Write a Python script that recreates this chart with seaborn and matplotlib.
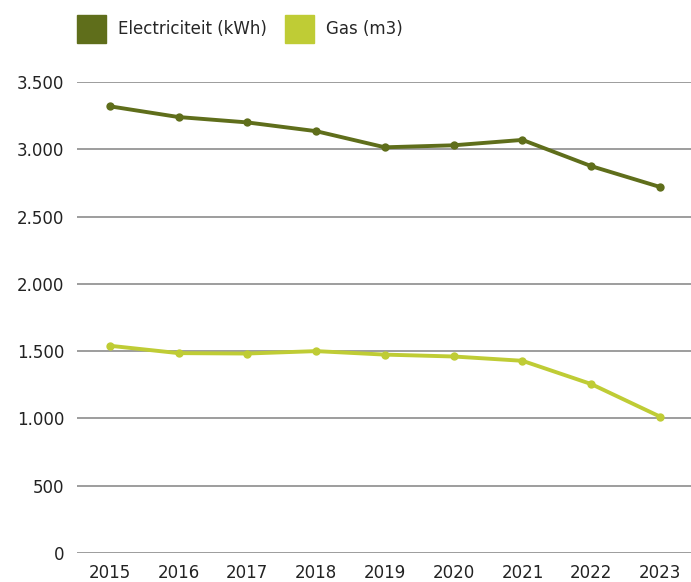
import numpy as np
import pandas as pd
import matplotlib
matplotlib.use("Agg")
import matplotlib.pyplot as plt
import matplotlib.ticker as mticker
from matplotlib.patches import Patch
import seaborn as sns

# values
years = [2015, 2016, 2017, 2018, 2019, 2020, 2021, 2022, 2023]
elektriciteit = [3320, 3240, 3200, 3135, 3015, 3030, 3070, 2875, 2720]
gas = [1540, 1485, 1482, 1500, 1474, 1460, 1428, 1255, 1013]
series_names = ["Electriciteit (kWh)", "Gas (m3)"]
colors = ["#5f6e1b", "#bfcc35"]

df = pd.DataFrame({
    "jaar": years * 2,
    "waarde": elektriciteit + gas,
    "soort": [series_names[0]] * len(years) + [series_names[1]] * len(years),
})

sns.set_style("white")
plt.rcParams["font.family"] = ["DejaVu Sans"]

fig = plt.figure(figsize=(6.91, 5.82), dpi=100)
ax = fig.add_axes([0.111, 0.05, 0.889, 0.809])

sns.lineplot(data=df, x="jaar", y="waarde", hue="soort", palette=colors,
             marker="o", markersize=6, markeredgewidth=0, linewidth=2.8,
             legend=False, ax=ax, zorder=3)

ax.set_xlim(2014.52, 2023.45)
ax.set_ylim(0, 3500)
ax.set_yticks(np.arange(0, 3501, 500))
ax.set_xticks(years)
ax.yaxis.set_major_formatter(mticker.FuncFormatter(lambda v, p: f"{int(v):,}".replace(",", ".")))
ax.yaxis.grid(True, color="#8c8c8c", linewidth=1.2)
ax.xaxis.grid(False)
for s in ax.spines.values():
    s.set_visible(False)
ax.tick_params(axis="both", length=0, labelsize=12, colors="#222222")
ax.tick_params(axis="y", pad=9)
ax.tick_params(axis="x", pad=8)
ax.set_xlabel("")
ax.set_ylabel("")

handles = [Patch(color=c, label=n) for c, n in zip(colors, series_names)]
fig.legend(handles=handles, loc="upper left", bbox_to_anchor=(0.09, 1.0),
           ncol=2, frameon=False, fontsize=12, handlelength=1.75, handleheight=2.2,
           columnspacing=1.1, handletextpad=0.7)

plt.savefig("out.png", dpi=100)
